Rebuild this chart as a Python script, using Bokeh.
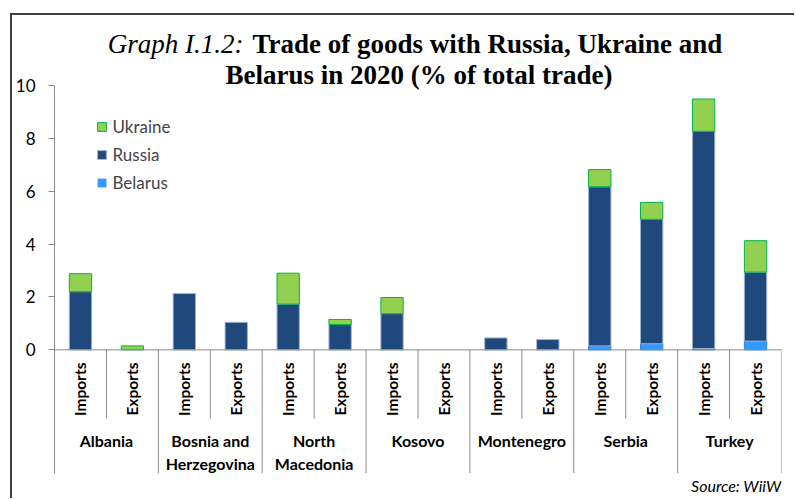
import math
from bokeh.plotting import figure
from bokeh.models import (FactorRange, Range1d, FixedTicker, Span, Label, Legend,
                          LegendItem, ColumnDataSource)
from bokeh.embed import file_html
from bokeh.resources import INLINE
from bokeh.core.properties import value

countries = ["Albania", "Bosnia and Herzegovina", "North Macedonia", "Kosovo",
             "Montenegro", "Serbia", "Turkey"]
country_labels = ["Albania", "Bosnia and\nHerzegovina", "North\nMacedonia", "Kosovo",
                  "Montenegro", "Serbia", "Turkey"]
flows = ["Imports", "Exports"]
y_ticks = [0, 2, 4, 6, 8, 10]

# order per country: Imports, Exports
belarus = [0.00, 0.00, 0.00, 0.00, 0.00, 0.00, 0.00, 0.00, 0.00, 0.00, 0.15, 0.23, 0.05, 0.33]
russia = [2.20, 0.00, 2.13, 1.04, 1.73, 0.96, 1.37, 0.00, 0.45, 0.39, 6.02, 4.71, 8.22, 2.61]
ukraine = [0.68, 0.15, 0.00, 0.00, 1.17, 0.19, 0.61, 0.00, 0.00, 0.00, 0.65, 0.64, 1.22, 1.19]

factors = [(c, f) for c in countries for f in flows]

GRAY = "#8a8a8a"

x_range = FactorRange(*factors, factor_padding=0, group_padding=0,
                      subgroup_padding=0, range_padding=0)
p = figure(width=784, height=485, x_range=x_range, y_range=Range1d(-5.70, 12.65),
           output_backend="svg", toolbar_location=None,
           min_border_left=38, min_border_right=15, min_border_top=0,
           min_border_bottom=0)
p.styles = {"margin-left": "10px", "margin-top": "13px",
            "border-top": "2px solid #404040", "border-left": "2px solid #404040"}
p.outline_line_color = None
p.xgrid.visible = False
p.ygrid.visible = False
p.xaxis.visible = False

ax = p.yaxis[0]
ax.ticker = FixedTicker(ticks=y_ticks)
ax.bounds = (-4.66, 10)
ax.axis_line_color = GRAY
ax.major_tick_line_color = GRAY
ax.major_tick_in = 0
ax.major_tick_out = 6
ax.minor_tick_line_color = None
ax.major_label_text_font = "Lato"
ax.major_label_text_font_size = "17px"
ax.major_label_text_color = "#000000"
ax.major_label_standoff = 13

src = ColumnDataSource(dict(
    x=factors, Belarus=belarus, Russia=russia, Ukraine=ukraine,
    a_b=[1 if v > 0 else 0 for v in belarus],
    a_r=[1 if v > 0 else 0 for v in russia],
    a_u=[1 if v > 0 else 0 for v in ukraine]))
rs = p.vbar_stack(["Belarus", "Russia", "Ukraine"], x="x", width=0.43, source=src,
                  fill_color=["#3399FF", "#1F497D", "#92D050"],
                  line_color=["#2A86E6", "#9DB3CF", "#00B050"],
                  line_alpha=["a_b", "a_r", "a_u"], line_width=1)

p.add_layout(Span(location=0, dimension="width", line_color=GRAY, line_width=1))

sub_x = [(c, "Exports", -0.5) for c in countries]
group_x = [(c, "Imports", -0.5) for c in countries] + [(countries[-1], "Exports", 0.5)]
p.segment(x0=sub_x, y0=0, x1=sub_x, y1=-2.6, line_color=GRAY, line_width=1)
p.segment(x0=group_x, y0=0, x1=group_x, y1=-4.66, line_color=GRAY, line_width=1)

p.text(x=factors, y=-0.48, text=[f for c, f in factors], angle=math.pi / 2,
       text_align="right", text_baseline="middle", text_font=value("Lato"),
       text_font_style="bold", text_font_size="15.5px", text_color="#000000")
p.text(x=countries, y=-3.08, text=country_labels, text_align="center",
       text_baseline="top", text_font=value("Lato"), text_font_style="bold",
       text_font_size="16px", text_color="#000000", text_line_height=1.2)

legend = Legend(items=[LegendItem(label="Ukraine", renderers=[rs[2]]),
                       LegendItem(label="Russia", renderers=[rs[1]]),
                       LegendItem(label="Belarus", renderers=[rs[0]])],
                location=(41.5, 307.5), glyph_width=11, glyph_height=11, label_height=20,
                spacing=7, padding=0, margin=0, border_line_color=None,
                background_fill_alpha=0, label_text_font="Lato",
                label_text_font_size="17px", label_standoff=6)
p.add_layout(legend)

p.add_layout(Label(x=189, y=457, x_units="screen", y_units="screen",
                   text="Graph I.1.2:", text_align="right", text_baseline="alphabetic",
                   text_font="Liberation Serif", text_font_style="italic",
                   text_font_size="27px", text_color="#000000"))
p.add_layout(Label(x=198, y=457, x_units="screen", y_units="screen",
                   text="Trade of goods with Russia, Ukraine and", text_align="left",
                   text_baseline="alphabetic", text_font="Liberation Serif",
                   text_font_style="bold", text_font_size="27px", text_color="#000000"))
p.add_layout(Label(x=364.5, y=426, x_units="screen", y_units="screen",
                   text="Belarus in 2020 (% of total trade)", text_align="center",
                   text_baseline="alphabetic", text_font="Liberation Serif",
                   text_font_style="bold", text_font_size="27px", text_color="#000000"))
p.add_layout(Label(x=727, y=15, x_units="screen", y_units="screen",
                   text="Source: WiiW", text_align="right", text_baseline="alphabetic",
                   text_font="Lato", text_font_style="italic", text_font_size="16px",
                   text_color="#000000"))

open("out.html", "w").write(file_html(p, INLINE))
